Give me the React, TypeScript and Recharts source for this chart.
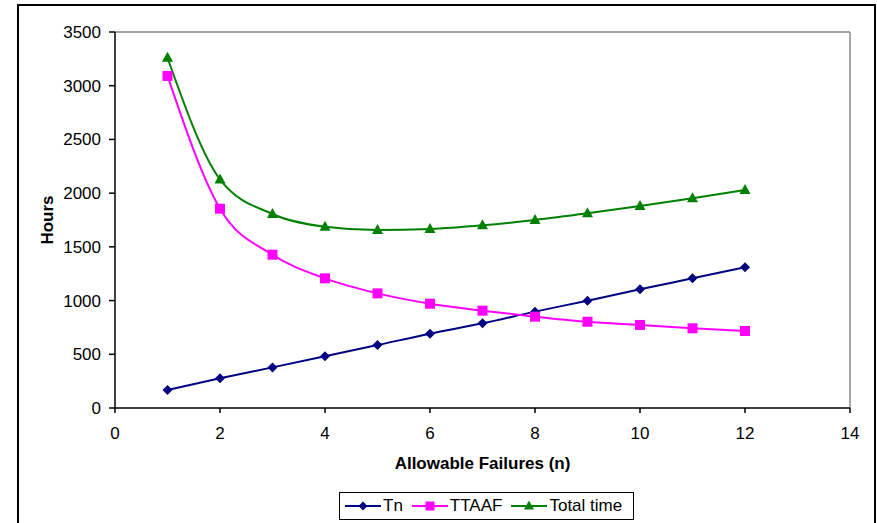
import React from "react";
import { LineChart, Line, XAxis, YAxis, ReferenceLine } from "recharts";

// values
const failures = [1, 2, 3, 4, 5, 6, 7, 8, 9, 10, 11, 12];
const tnHours = [168, 276, 378, 481, 586, 692, 788, 897, 999, 1105, 1207, 1310];
const ttaafHours = [3091, 1855, 1427, 1207, 1067, 971, 906, 850, 803, 773, 742, 717];
const totalHours = [3260, 2128, 1806, 1688, 1657, 1666, 1700, 1750, 1812, 1880, 1952, 2029];

const xTicks = [0, 2, 4, 6, 8, 10, 12, 14];
const yTicks = [0, 500, 1000, 1500, 2000, 2500, 3000, 3500];

const TN_COLOR = "#000080";
const TTAAF_COLOR = "#FF00FF";
const TOTAL_COLOR = "#008000";
const FONT = '"Liberation Sans", Arial, sans-serif';
const FONT_SIZE = 17;

const data = failures.map((n, i) => ({
  n,
  tn: tnHours[i],
  ttaaf: ttaafHours[i],
  total: totalHours[i],
}));

const diamondPath = (x: number, y: number, r: number) =>
  `M${x},${y - r}L${x + r},${y}L${x},${y + r}L${x - r},${y}Z`;
const squarePath = (x: number, y: number, r: number) =>
  `M${x - r},${y - r}L${x + r},${y - r}L${x + r},${y + r}L${x - r},${y + r}Z`;
const trianglePath = (x: number, y: number, r: number) =>
  `M${x},${y - r - 1}L${x + r + 0.5},${y + r - 1}L${x - r - 0.5},${y + r - 1}Z`;

const makeDot = (shape: (x: number, y: number, r: number) => string, r: number, color: string) =>
  (props: any) => {
    const { cx, cy, index } = props;
    if (cx == null || cy == null) return <g key={`d-${index}`} />;
    return <path key={`d-${index}`} d={shape(cx, cy, r)} fill={color} stroke="none" />;
  };

const legendItems = [
  { name: "Tn", color: TN_COLOR, shape: diamondPath, r: 4.5 },
  { name: "TTAAF", color: TTAAF_COLOR, shape: squarePath, r: 4.5 },
  { name: "Total time", color: TOTAL_COLOR, shape: trianglePath, r: 4.5 },
];

const XLabel = ({ viewBox }: any) => (
  <text
    x={viewBox.x + viewBox.width / 2}
    y={viewBox.y + 61}
    textAnchor="middle"
    fontFamily={FONT}
    fontSize={FONT_SIZE}
    fontWeight="bold"
    fill="#000"
  >
    Allowable Failures (n)
  </text>
);

const YLabel = ({ viewBox }: any) => {
  const x = 47;
  const y = viewBox.y + viewBox.height / 2;
  return (
    <text
      x={x}
      y={y}
      transform={`rotate(-90, ${x}, ${y})`}
      textAnchor="middle"
      dominantBaseline="central"
      fontFamily={FONT}
      fontSize={FONT_SIZE}
      fontWeight="bold"
      fill="#000"
    >
      Hours
    </text>
  );
};

export default function App() {
  return (
    <div
      style={{
        position: "absolute",
        left: 0,
        top: 0,
        width: 877,
        height: 523,
        overflow: "hidden",
        background: "#fff",
        fontFamily: FONT,
      }}
    >
      <div
        style={{
          position: "absolute",
          left: 17,
          top: 4,
          width: 859,
          height: 540,
          border: "2px solid #000",
          boxSizing: "border-box",
        }}
      />
      <LineChart
        width={877}
        height={523}
        data={data}
        margin={{ top: 32, right: 27, left: 55, bottom: 53 }}
        style={{ position: "absolute", left: 0, top: 0 }}
      >
        <ReferenceLine y={3500} stroke="#888" strokeWidth={1.5} ifOverflow="visible" />
        <ReferenceLine x={14} stroke="#888" strokeWidth={1.5} ifOverflow="visible" />
        <XAxis
          dataKey="n"
          type="number"
          domain={[0, 14]}
          ticks={xTicks}
          interval={0}
          height={62}
          tickSize={5}
          tickMargin={14}
          stroke="#000"
          strokeWidth={1.5}
          tick={{ fill: "#000", fontSize: FONT_SIZE, fontFamily: FONT }}
          label={XLabel}
        />
        <YAxis
          type="number"
          domain={[0, 3500]}
          ticks={yTicks}
          interval={0}
          width={60}
          tickSize={6}
          tickMargin={8}
          stroke="#000"
          strokeWidth={1.5}
          tick={{ fill: "#000", fontSize: FONT_SIZE, fontFamily: FONT }}
          label={YLabel}
        />
        <Line
          type="monotone"
          dataKey="tn"
          stroke={TN_COLOR}
          strokeWidth={2}
          dot={makeDot(diamondPath, 5, TN_COLOR)}
          isAnimationActive={false}
        />
        <Line
          type="monotone"
          dataKey="ttaaf"
          stroke={TTAAF_COLOR}
          strokeWidth={2}
          dot={makeDot(squarePath, 5, TTAAF_COLOR)}
          isAnimationActive={false}
        />
        <Line
          type="monotone"
          dataKey="total"
          stroke={TOTAL_COLOR}
          strokeWidth={2}
          dot={makeDot(trianglePath, 5, TOTAL_COLOR)}
          isAnimationActive={false}
        />
      </LineChart>
      <div
        style={{
          position: "absolute",
          left: 339,
          top: 492,
          width: 295,
          height: 28,
          border: "1px solid #000",
          boxSizing: "border-box",
          display: "flex",
          alignItems: "center",
          paddingLeft: 5,
          fontSize: FONT_SIZE,
          color: "#000",
          whiteSpace: "nowrap",
        }}
      >
        {legendItems.map((item) => (
          <div key={item.name} style={{ display: "flex", alignItems: "center", marginRight: 9 }}>
            <svg width={36} height={14} style={{ display: "block" }}>
              <line x1={0} y1={7} x2={36} y2={7} stroke={item.color} strokeWidth={1.8} />
              <path d={item.shape(18, 7, item.r)} fill={item.color} />
            </svg>
            <span style={{ marginLeft: 2 }}>{item.name}</span>
          </div>
        ))}
      </div>
    </div>
  );
}
